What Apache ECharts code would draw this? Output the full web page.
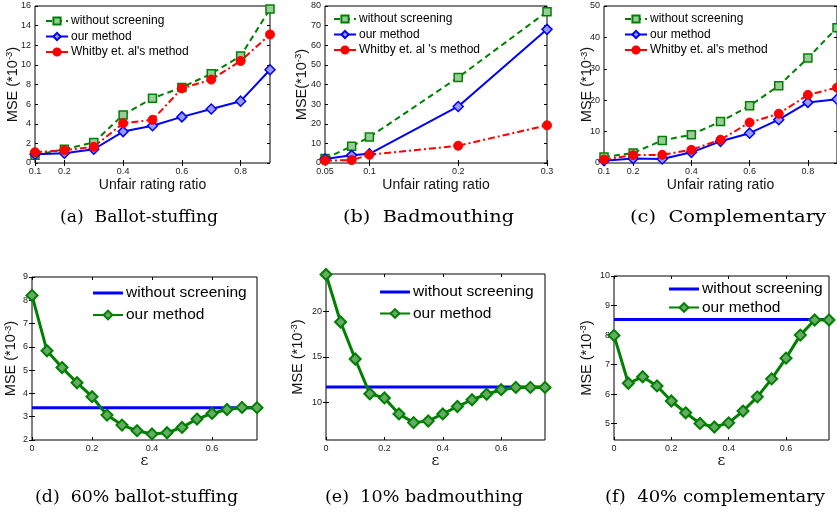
<!DOCTYPE html>
<html>
<head>
<meta charset="utf-8">
<script src="https://cdn.jsdelivr.net/npm/echarts@6/dist/echarts.min.js"></script>
<style>html,body{margin:0;padding:0;background:#fff;}#c{width:837px;height:512px;}</style>
</head>
<body>
<div id="c"></div>
<script>
// ---------- data ----------
const ratioX = [0.1, 0.2, 0.3, 0.4, 0.5, 0.6, 0.7, 0.8, 0.9];
const aWithout = [0.8, 1.4, 2.1, 4.9, 6.6, 7.7, 9.1, 10.9, 15.7];
const aOur     = [0.9, 1.0, 1.4, 3.2, 3.8, 4.7, 5.5, 6.3, 9.5];
const aWhitby  = [1.1, 1.3, 1.65, 4.05, 4.4, 7.6, 8.5, 10.4, 13.1];

const badX = [0.05, 0.08, 0.1, 0.2, 0.3];
const bWithout = [2.3, 8.5, 13.2, 43.6, 77.1];
const bOur     = [2.0, 3.9, 4.7, 28.8, 68.1];
const bWhitby  = [1.2, 1.5, 4.2, 8.8, 19.2];

const cWithout = [1.9, 3.2, 7.2, 9.0, 13.2, 18.2, 24.6, 33.4, 43.1];
const cOur     = [0.7, 1.4, 1.3, 3.4, 6.9, 9.5, 13.8, 19.3, 20.3];
const cWhitby  = [1.1, 2.5, 2.6, 4.2, 7.4, 12.9, 15.7, 21.7, 24.0];

const epsX = [0, 0.05, 0.1, 0.15, 0.2, 0.25, 0.3, 0.35, 0.4, 0.45, 0.5, 0.55, 0.6, 0.65, 0.7, 0.75];
const dOur = [8.21, 5.83, 5.11, 4.46, 3.86, 3.07, 2.64, 2.40, 2.26, 2.31, 2.54, 2.90, 3.14, 3.31, 3.40, 3.39];
const dWithout = 3.38;
const eOur = [24.0, 18.8, 14.76, 10.95, 10.5, 8.75, 7.8, 7.98, 8.75, 9.56, 10.3, 10.9, 11.4, 11.65, 11.65, 11.65];
const eWithout = 11.7;
const fOur = [7.99, 6.37, 6.59, 6.28, 5.77, 5.37, 5.01, 4.89, 5.03, 5.43, 5.91, 6.52, 7.22, 8.0, 8.51, 8.51];
const fWithout = 8.53;

// tick labels
const ratioTicks = [0.1, 0.2, 0.4, 0.6, 0.8];
const badTicks = [0.05, 0.1, 0.2, 0.3];
const aYTicks = [0, 2, 4, 6, 8, 10, 12, 14, 16];
const bYTicks = [0, 10, 20, 30, 40, 50, 60, 70, 80];
const cYTicks = [0, 10, 20, 30, 40, 50];
const epsTicks = [0, 0.2, 0.4, 0.6];
const dYTicks = [2, 3, 4, 5, 6, 7, 8, 9];
const eYTicks = [10, 15, 20];
const fYTicks = [5, 6, 7, 8, 9, 10];

const captions = ['(a)  Ballot-stuffing', '(b)  Badmouthing', '(c)  Complementary',
                  '(d)  60% ballot-stuffing', '(e)  10% badmouthing', '(f)  40% complementary'];

const nWithout = 'without screening';
const nOur = 'our method';
const nWhitby = "Whitby et. al's method";
const nWhitbyB = "Whitby et. al 's method";

// ---------- styling ----------
const SANS = '"Liberation Sans", Arial, sans-serif';
const SERIF = '"DejaVu Serif", serif';
const GREEN = '#008000', BLUE = '#0000ff', RED = '#ff0000';

const pair = (xs, ys) => xs.map((x, i) => [x, ys[i]]);

const xAxis = [], yAxis = [];
function addAxes(gi, xr, xt, yr, yt, xname, yname, xgap, ygap, xnameSerif) {
  const lab = { fontSize: 9, color: '#222', fontFamily: SANS, margin: 4 };
  xAxis.push({
    type: 'value', gridIndex: gi, min: xr[0], max: xr[1], position: 'bottom',
    axisLine: { show: false }, splitLine: { show: false },
    axisTick: { inside: true, length: 3, customValues: xt, lineStyle: { color: '#000' } },
    axisLabel: Object.assign({ customValues: xt }, lab),
    name: xname, nameLocation: 'middle', nameGap: xgap, nameMoveOverlap: false,
    nameTextStyle: { fontSize: xnameSerif ? 15 : 14, color: '#111', fontFamily: xnameSerif ? SERIF : SANS }
  });
  xAxis.push({
    type: 'value', gridIndex: gi, min: xr[0], max: xr[1], position: 'top',
    axisLine: { show: false }, splitLine: { show: false }, axisLabel: { show: false },
    axisTick: { inside: true, length: 3, customValues: xt, lineStyle: { color: '#000' } }
  });
  yAxis.push({
    type: 'value', gridIndex: gi, min: yr[0], max: yr[1], position: 'left',
    axisLine: { show: false }, splitLine: { show: false },
    axisTick: { inside: true, length: 3, customValues: yt, lineStyle: { color: '#000' } },
    axisLabel: Object.assign({ customValues: yt }, lab),
    name: yname, nameLocation: 'middle', nameGap: ygap, nameRotate: 90, nameMoveOverlap: false,
    nameTextStyle: {
      fontSize: 14.5, color: '#111', fontFamily: SANS,
      rich: {
        a: { fontSize: 14.5, color: '#111', fontFamily: SANS, lineHeight: 16 },
        s: { fontSize: 9.5, color: '#111', fontFamily: SANS, verticalAlign: 'top', lineHeight: 9 }
      }
    }
  });
  yAxis.push({
    type: 'value', gridIndex: gi, min: yr[0], max: yr[1], position: 'right',
    axisLine: { show: false }, splitLine: { show: false }, axisLabel: { show: false },
    axisTick: { inside: true, length: 3, customValues: yt, lineStyle: { color: '#000' } }
  });
}

const msName = '{a|MSE (*10}{s|-3}{a|)}';
const msNameB = '{a|MSE(*10}{s|-3}{a|)}';

addAxes(0, [0.1, 0.9], ratioTicks, [0, 16], aYTicks, 'Unfair rating ratio', msName, 15, 14.5);
addAxes(1, [0.05, 0.3], badTicks, [0, 80], bYTicks, 'Unfair rating ratio', msNameB, 15, 15.5);
addAxes(2, [0.1, 0.9], ratioTicks, [0, 50], cYTicks, 'Unfair rating ratio', msName, 15, 9);
addAxes(3, [0, 0.75], epsTicks, [2, 9], dYTicks, 'ε', msName, 14, 13, true);
addAxes(4, [0, 0.75], epsTicks, [5.9, 24.05], eYTicks, 'ε', msName, 14, 20.5, true);
addAxes(5, [0, 0.75], epsTicks, [4.45, 10], fYTicks, 'ε', msName, 14, 19.5, true);

function topSeries(gi, xs, w, o, r, whitName, tag) {
  const ax = gi * 2;
  return [
    { name: nWithout + '#' + tag, type: 'line', xAxisIndex: ax, yAxisIndex: ax, data: pair(xs, w), clip: false,
      symbol: 'rect', symbolSize: 8, lineStyle: { color: GREEN, width: 2, type: [6, 4] },
      itemStyle: { color: '#9c9', borderColor: GREEN, borderWidth: 1.5 } },
    { name: nOur + '#' + tag, type: 'line', xAxisIndex: ax, yAxisIndex: ax, data: pair(xs, o), clip: false,
      symbol: 'diamond', symbolSize: 10, lineStyle: { color: BLUE, width: 2 },
      itemStyle: { color: '#99f', borderColor: BLUE, borderWidth: 1.5 } },
    { name: whitName + '#' + tag, type: 'line', xAxisIndex: ax, yAxisIndex: ax, data: pair(xs, r), clip: false,
      symbol: 'circle', symbolSize: 9, lineStyle: { color: RED, width: 2, type: [7, 3, 2, 3] },
      itemStyle: { color: RED, borderColor: RED, borderWidth: 1 } }
  ];
}
function botSeries(gi, ys, base, tag) {
  const ax = gi * 2;
  return [
    { name: nWithout + '#' + tag, type: 'line', xAxisIndex: ax, yAxisIndex: ax,
      data: [[epsX[0], base], [epsX[epsX.length - 1], base]], symbol: 'none', showSymbol: false,
      lineStyle: { color: BLUE, width: 3 }, itemStyle: { color: BLUE } },
    { name: nOur + '#' + tag, type: 'line', xAxisIndex: ax, yAxisIndex: ax, data: pair(epsX, ys), clip: false,
      symbol: 'diamond', symbolSize: 11, lineStyle: { color: GREEN, width: 3 },
      itemStyle: { color: '#6a6', borderColor: GREEN, borderWidth: 2 } }
  ];
}

const series = [].concat(
  topSeries(0, ratioX, aWithout, aOur, aWhitby, nWhitby, 'a'),
  topSeries(1, badX, bWithout, bOur, bWhitby, nWhitbyB, 'b'),
  topSeries(2, ratioX, cWithout, cOur, cWhitby, nWhitby, 'c'),
  botSeries(3, dOur, dWithout, 'd'),
  botSeries(4, eOur, eWithout, 'e'),
  botSeries(5, fOur, fWithout, 'f')
);

const LINE_ICON = 'path://M0,0H30V3H0Z';
function legendFor(tag, names, left, top, big, gap) {
  return {
    orient: 'vertical', left: left, top: top, padding: 0,
    itemWidth: big ? 30 : 22, itemHeight: big ? 11 : 9, itemGap: gap,
    selectedMode: false,
    data: names.map(n => (big && n === nWithout)
      ? { name: n + '#' + tag, icon: LINE_ICON, itemStyle: { color: BLUE } }
      : n + '#' + tag),
    formatter: n => n.split('#')[0],
    textStyle: { fontSize: big ? 15.5 : 12, color: '#000', fontFamily: SANS, padding: [0, 0, 0, -2] }
  };
}

const legend = [
  legendFor('a', [nWithout, nOur, nWhitby], 45, 15, false, 3.5),
  legendFor('b', [nWithout, nOur, nWhitbyB], 333, 13, false, 3.5),
  legendFor('c', [nWithout, nOur, nWhitby], 624, 13, false, 3.5),
  legendFor('d', [nWithout, nOur], 92, 285, true, 6),
  legendFor('e', [nWithout, nOur], 379, 284, true, 5.5),
  legendFor('f', [nWithout, nOur], 668, 281, true, 2.5)
];

const gridStyle = { show: true, borderColor: '#000', borderWidth: 1, backgroundColor: 'transparent', containLabel: false };
const grid = [
  Object.assign({ left: 35, top: 6, width: 235, height: 157 }, gridStyle),
  Object.assign({ left: 325, top: 6, width: 222, height: 157 }, gridStyle),
  Object.assign({ left: 604, top: 6, width: 236, height: 157 }, gridStyle),
  Object.assign({ left: 32, top: 277, width: 225, height: 163 }, gridStyle),
  Object.assign({ left: 326, top: 274, width: 219, height: 166 }, gridStyle),
  Object.assign({ left: 614, top: 276, width: 215, height: 164 }, gridStyle)
];

// caption placement: [left, right, centerY] of each caption box
const capBox = [[60, 218, 218], [343, 514, 218], [630, 826, 218], [35, 238, 498], [325, 523, 498], [605, 825, 498]];
const CAP_FONT = '16.5px ' + SERIF;
const mctx = document.createElement('canvas').getContext('2d');
mctx.font = CAP_FONT;
const graphic = captions.map((t, i) => {
  const w = mctx.measureText(t).width;
  const target = capBox[i][1] - capBox[i][0];
  return {
    type: 'text', x: capBox[i][0], y: capBox[i][2], silent: true,
    scaleX: target / w, scaleY: 1,
    style: { text: t, fill: '#000', font: CAP_FONT, textAlign: 'left', textVerticalAlign: 'middle' }
  };
});

const chart = echarts.init(document.getElementById('c'), null, { renderer: 'canvas' });
chart.setOption({
  animation: false,
  backgroundColor: '#fff',
  grid, xAxis, yAxis, series, legend, graphic
});
</script>
</body>
</html>
